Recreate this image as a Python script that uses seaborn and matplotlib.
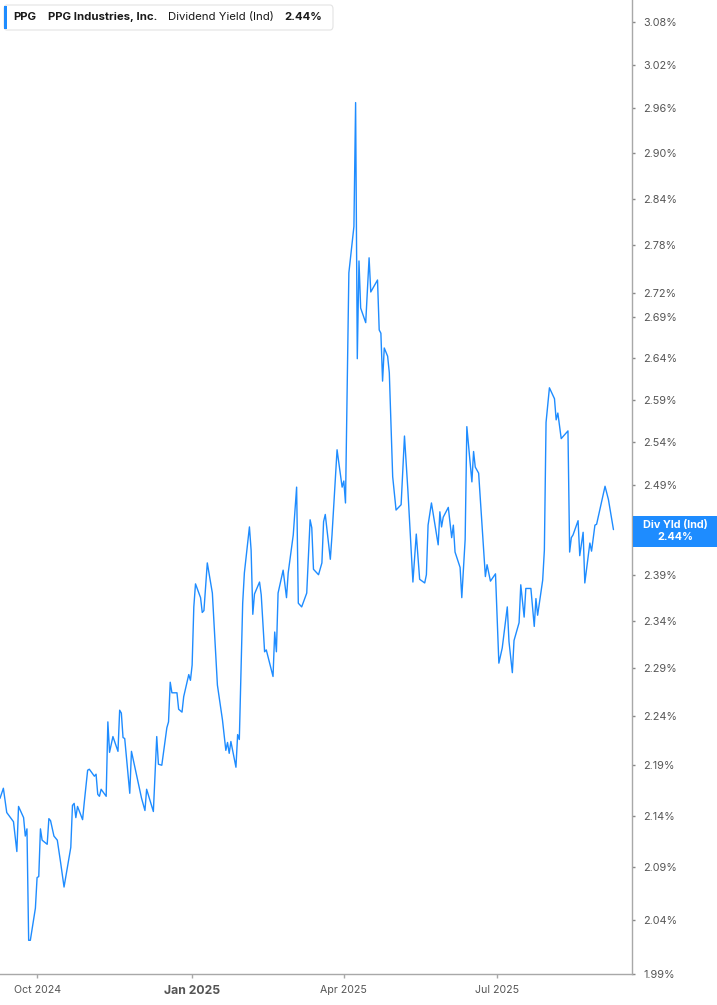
import pandas as pd
import matplotlib.pyplot as plt
from matplotlib.patches import FancyBboxPatch, Rectangle
import seaborn as sns

# PPG dividend yield (%)
dates = [
    '2024-09-09', '2024-09-11', '2024-09-13', '2024-09-17', '2024-09-19', '2024-09-20',
    '2024-09-23', '2024-09-24', '2024-09-25', '2024-09-26', '2024-09-27', '2024-09-30',
    '2024-10-01', '2024-10-02', '2024-10-03', '2024-10-04', '2024-10-07', '2024-10-08',
    '2024-10-09', '2024-10-11', '2024-10-13', '2024-10-15', '2024-10-17', '2024-10-21',
    '2024-10-22', '2024-10-23', '2024-10-24', '2024-10-25', '2024-10-28', '2024-10-29',
    '2024-10-31',
    '2024-11-01', '2024-11-04', '2024-11-05', '2024-11-06', '2024-11-07', '2024-11-08',
    '2024-11-11', '2024-11-12', '2024-11-13', '2024-11-15', '2024-11-18', '2024-11-19',
    '2024-11-20', '2024-11-21', '2024-11-22', '2024-11-25', '2024-11-26',
    '2024-12-02', '2024-12-04', '2024-12-05', '2024-12-09', '2024-12-11', '2024-12-12',
    '2024-12-14', '2024-12-17', '2024-12-18', '2024-12-19', '2024-12-20', '2024-12-23',
    '2024-12-24', '2024-12-26', '2024-12-27', '2024-12-30', '2024-12-31',
    '2025-01-01', '2025-01-02', '2025-01-03', '2025-01-06', '2025-01-07', '2025-01-08',
    '2025-01-10', '2025-01-13', '2025-01-16', '2025-01-19', '2025-01-21', '2025-01-22',
    '2025-01-23', '2025-01-24', '2025-01-27', '2025-01-28', '2025-01-29', '2025-01-31',
    '2025-02-01', '2025-02-04', '2025-02-05', '2025-02-06', '2025-02-07', '2025-02-10',
    '2025-02-11', '2025-02-13', '2025-02-14', '2025-02-18', '2025-02-19', '2025-02-20',
    '2025-02-21', '2025-02-24', '2025-02-26', '2025-02-27',
    '2025-03-02', '2025-03-04', '2025-03-05', '2025-03-07', '2025-03-10', '2025-03-12',
    '2025-03-13', '2025-03-14', '2025-03-17', '2025-03-19', '2025-03-20', '2025-03-21',
    '2025-03-24', '2025-03-25', '2025-03-28', '2025-03-31',
    '2025-04-01', '2025-04-02', '2025-04-04', '2025-04-07', '2025-04-08', '2025-04-09',
    '2025-04-10', '2025-04-11', '2025-04-14', '2025-04-16', '2025-04-17', '2025-04-21',
    '2025-04-22', '2025-04-23', '2025-04-24', '2025-04-25', '2025-04-27', '2025-04-28',
    '2025-04-30',
    '2025-05-02', '2025-05-05', '2025-05-07', '2025-05-09', '2025-05-12', '2025-05-14',
    '2025-05-16', '2025-05-19', '2025-05-20', '2025-05-21', '2025-05-23', '2025-05-27',
    '2025-05-28', '2025-05-29', '2025-05-30',
    '2025-06-02', '2025-06-04', '2025-06-05', '2025-06-06', '2025-06-09', '2025-06-10',
    '2025-06-12', '2025-06-13', '2025-06-16', '2025-06-17', '2025-06-18', '2025-06-20',
    '2025-06-24', '2025-06-25', '2025-06-27', '2025-06-30',
    '2025-07-02', '2025-07-04', '2025-07-07', '2025-07-08', '2025-07-10', '2025-07-11',
    '2025-07-14', '2025-07-15', '2025-07-17', '2025-07-18', '2025-07-21', '2025-07-23',
    '2025-07-24', '2025-07-25', '2025-07-28', '2025-07-29', '2025-07-30',
    '2025-08-01', '2025-08-04', '2025-08-05', '2025-08-06', '2025-08-08', '2025-08-12',
    '2025-08-13', '2025-08-14', '2025-08-15', '2025-08-18', '2025-08-19', '2025-08-21',
    '2025-08-22', '2025-08-25', '2025-08-26', '2025-08-28', '2025-08-29',
    '2025-09-03', '2025-09-05', '2025-09-08',
]
yields = [
    2.157, 2.167, 2.143, 2.134, 2.105, 2.149,
    2.138, 2.120, 2.127, 2.021, 2.021, 2.051,
    2.080, 2.081, 2.127, 2.116, 2.112, 2.137,
    2.135, 2.120, 2.116, 2.094, 2.071, 2.109,
    2.150, 2.152, 2.138, 2.149, 2.136, 2.153,
    2.185,
    2.186, 2.179, 2.181, 2.161, 2.159, 2.166,
    2.159, 2.234, 2.203, 2.219, 2.204, 2.246,
    2.243, 2.218, 2.217, 2.162, 2.204,
    2.157, 2.145, 2.166, 2.144, 2.219, 2.191,
    2.190, 2.228, 2.234, 2.275, 2.264, 2.264,
    2.247, 2.244, 2.260, 2.283, 2.277,
    2.293, 2.355, 2.380, 2.365, 2.349, 2.351,
    2.403, 2.370, 2.272, 2.236, 2.205, 2.213,
    2.202, 2.214, 2.188, 2.221, 2.216, 2.359,
    2.392, 2.443, 2.417, 2.347, 2.369, 2.382,
    2.368, 2.307, 2.309, 2.281, 2.328, 2.307,
    2.370, 2.395, 2.365, 2.392,
    2.434, 2.488, 2.359, 2.355, 2.370, 2.451,
    2.442, 2.396, 2.390, 2.403, 2.449, 2.457,
    2.407, 2.434, 2.531, 2.488,
    2.495, 2.470, 2.745, 2.804, 2.968, 2.639,
    2.760, 2.701, 2.683, 2.764, 2.721, 2.736,
    2.674, 2.670, 2.612, 2.652, 2.642, 2.622,
    2.500,
    2.462, 2.468, 2.547, 2.485, 2.382, 2.435,
    2.385, 2.381, 2.390, 2.445, 2.470, 2.423,
    2.460, 2.443, 2.454,
    2.465, 2.431, 2.445, 2.415, 2.398, 2.365,
    2.429, 2.558, 2.494, 2.529, 2.511, 2.504,
    2.388, 2.401, 2.383, 2.391,
    2.295, 2.311, 2.355, 2.318, 2.285, 2.319,
    2.338, 2.379, 2.344, 2.375, 2.375, 2.334,
    2.364, 2.346, 2.384, 2.417, 2.563,
    2.604, 2.591, 2.566, 2.574, 2.544, 2.553,
    2.415, 2.431, 2.434, 2.450, 2.411, 2.437,
    2.381, 2.425, 2.416, 2.445, 2.446,
    2.489, 2.474, 2.440,
]

y_ticks = [1.99, 2.04, 2.09, 2.14, 2.19, 2.24, 2.29, 2.34, 2.39, 2.44, 2.49, 2.54,
           2.59, 2.64, 2.69, 2.72, 2.78, 2.84, 2.90, 2.96, 3.02, 3.08]
x_ticks = ['2024-10-01', '2025-01-01', '2025-04-01', '2025-07-01']
x_labels = ['Oct 2024', 'Jan 2025', 'Apr 2025', 'Jul 2025']
last_value = 2.44

BLUE = '#1E8CFF'
W, H = 717, 1005

df = pd.DataFrame({'date': pd.to_datetime(dates), 'yield': yields})

sns.set_style('white')
plt.rcParams['font.family'] = ['Inter', 'DejaVu Sans']

fig = plt.figure(figsize=(W / 100, H / 100), dpi=100)
ax = fig.add_axes([0, 31 / H, 632 / W, 974 / H])

sns.lineplot(data=df, x='date', y='yield', color=BLUE, linewidth=1.0, ax=ax)

ax.set_yscale('log')
ax.set_ylim(1.99, 3.111)
ax.set_xlim(pd.Timestamp('2024-09-09'), pd.Timestamp('2025-09-19'))
# the badge sits over the last-value tick, so that label stays empty
ax.set_yticks(y_ticks, labels=['' if v == last_value else f'{v:.2f}%' for v in y_ticks])
ax.set_xticks(pd.to_datetime(x_ticks), labels=x_labels)
ax.minorticks_off()
ax.set_xlabel('')
ax.set_ylabel('')

ax.yaxis.tick_right()
for side in ['left', 'top']:
    ax.spines[side].set_visible(False)
for side in ['bottom', 'right']:
    ax.spines[side].set_color('#a8a8a8')
    ax.spines[side].set_linewidth(1.0)
ax.tick_params(axis='y', right=True, length=2, width=1, color='#888888',
               labelsize=7.8, labelcolor='#555555', pad=6)
ax.tick_params(axis='x', bottom=True, length=3, width=1, color='#a8a8a8',
               labelsize=7.6, labelcolor='#555555', pad=5)
for lbl in ax.get_xticklabels():
    if lbl.get_text() == 'Jan 2025':
        lbl.set_fontweight('bold')
        lbl.set_fontsize(8.8)
ax.grid(False)

# last value badge on the right axis
fig.add_artist(Rectangle((633 / W, 1 - 547 / H), 84 / W, 31 / H,
                         transform=fig.transFigure, facecolor=BLUE, edgecolor='none'))
fig.text(675 / W, 1 - 531 / H, f'Div Yld (Ind)\n{last_value:.2f}%', ha='center', va='center',
         color='white', fontweight='bold', fontsize=7.8, linespacing=1.15)

# header box
fig.add_artist(FancyBboxPatch((4 / W, 1 - 30 / H), 329 / W, 25 / H,
                              boxstyle='round,pad=0,rounding_size=0.004',
                              transform=fig.transFigure, facecolor='white',
                              edgecolor='#e3e3e3', linewidth=0.8))
fig.add_artist(Rectangle((4 / W, 1 - 29 / H), 3 / W, 23 / H,
                         transform=fig.transFigure, facecolor=BLUE, edgecolor='none'))
hy = 1 - 17 / H
fig.text(13 / W, hy, 'PPG', fontweight='bold', fontsize=8.2, va='center', color='#1a1a1a')
fig.text(48 / W, hy, 'PPG Industries, Inc.', fontweight='bold', fontsize=8.2, va='center', color='#1a1a1a')
fig.text(168 / W, hy, 'Dividend Yield (Ind)', fontsize=8.2, va='center', color='#1a1a1a')
fig.text(284 / W, hy, f'{last_value:.2f}%', fontweight='bold', fontsize=8.2, va='center', color='#1a1a1a')

fig.savefig('out.png', dpi=100)
